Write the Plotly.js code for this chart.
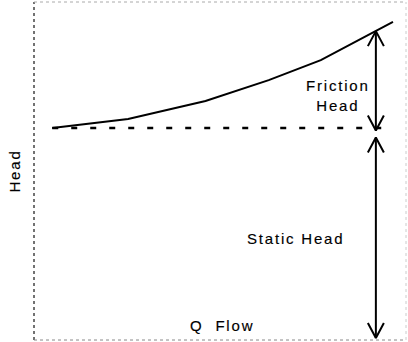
<!DOCTYPE html>
<html>
<head>
<meta charset="utf-8">
<script src="https://cdn.plot.ly/plotly-3.0.1.min.js"></script>
<style>
  html, body { margin: 0; padding: 0; background: #fff; }
  #chart { width: 408px; height: 342px; }
  .annotation-text, .ytitle { letter-spacing: 1.8px; stroke: #000; stroke-width: 0.15px; }
</style>
</head>
<body>
<div id="chart"></div>
<script>
// Data (abstract units: flow 0-100, head 0-100)
const flow = [4.9, 25.3, 46.1, 63.1, 77.1, 86.5, 96.5];
const systemHead = [62.7, 65.4, 70.7, 76.9, 82.8, 88.2, 94.1];
const staticHead = 62.7;
const arrowFlow = 91.9;
const headAxisTitle = "Head";
const flowLabel = "Q  Flow";
const frictionLabel = "Friction<br>Head";
const staticLabel = "Static Head";

// Layout geometry
const W = 408, H = 342;
const M = {l: 34, r: 2, t: 2, b: 2};
const xRange = [0, 100], yRange = [0, 100];
const pw = W - M.l - M.r, ph = H - M.t - M.b;
const pxX = p => p / pw * (xRange[1] - xRange[0]);
const pxY = p => p / ph * (yRange[1] - yRange[0]);

// head on the curve at the arrow's flow
function curveAt(x) {
  for (let i = 0; i < flow.length - 1; i++) {
    if (x >= flow[i] && x <= flow[i + 1]) {
      const t = (x - flow[i]) / (flow[i + 1] - flow[i]);
      return systemHead[i] + t * (systemHead[i + 1] - systemHead[i]);
    }
  }
  return systemHead[systemHead.length - 1];
}
const frictionTop = curveAt(arrowFlow);
const frictionBottom = staticHead - pxY(2.5);
const staticTop = staticHead - pxY(9.5);
const staticBottom = yRange[0] + pxY(2);

const headW = pxX(8), headH = pxY(15);
function vHead(xTip, yTip, dir) { // dir=+1 points up, -1 points down
  return {
    x: [xTip - headW, xTip, xTip + headW],
    y: [yTip - dir * headH, yTip, yTip - dir * headH]
  };
}
const arrowLine = {color: '#000', width: 2};
const traces = [
  {x: flow, y: systemHead, mode: 'lines', line: {color: '#000', width: 2}, hoverinfo: 'skip'},
  {x: [flow[0], flow[flow.length - 1]], y: [staticHead, staticHead], mode: 'lines',
   line: {color: '#000', width: 2.5, dash: '6px,13px'}, hoverinfo: 'skip'},
  {x: [arrowFlow, arrowFlow], y: [frictionTop, frictionBottom], mode: 'lines', line: arrowLine, hoverinfo: 'skip'},
  Object.assign({mode: 'lines', line: arrowLine, hoverinfo: 'skip'}, vHead(arrowFlow, frictionTop, 1)),
  Object.assign({mode: 'lines', line: arrowLine, hoverinfo: 'skip'}, vHead(arrowFlow, frictionBottom, -1)),
  {x: [arrowFlow, arrowFlow], y: [staticTop, staticBottom], mode: 'lines', line: arrowLine, hoverinfo: 'skip'},
  Object.assign({mode: 'lines', line: arrowLine, hoverinfo: 'skip'}, vHead(arrowFlow, staticTop, 1)),
  Object.assign({mode: 'lines', line: arrowLine, hoverinfo: 'skip'}, vHead(arrowFlow, staticBottom, -1))
];

const textFont = {family: '"Liberation Sans", Arial, sans-serif', size: 15, color: '#000'};
const layout = {
  width: W, height: H,
  margin: M,
  paper_bgcolor: '#fff', plot_bgcolor: '#fff',
  showlegend: false,
  xaxis: {range: xRange, showgrid: false, zeroline: false, showticklabels: false, ticks: '', showline: false, fixedrange: true},
  yaxis: {range: yRange, showgrid: false, zeroline: false, showticklabels: false, ticks: '', showline: false, fixedrange: true,
          title: {text: headAxisTitle, font: textFont, standoff: 8}},
  shapes: [
    {type: 'line', xref: 'paper', yref: 'paper', x0: 0, x1: 0, y0: 0, y1: 1, line: {color: '#444', width: 1.5, dash: 'dot'}},
    {type: 'line', xref: 'paper', yref: 'paper', x0: 0, x1: 1, y0: 1, y1: 1, line: {color: '#aaa', width: 1, dash: 'dot'}},
    {type: 'line', xref: 'paper', yref: 'paper', x0: 0, x1: 1, y0: 0, y1: 0, line: {color: '#888', width: 1, dash: 'dot'}},
    {type: 'line', xref: 'paper', yref: 'paper', x0: 1, x1: 1, y0: 0, y1: 1, line: {color: '#ccc', width: 1, dash: 'dot'}}
  ],
  annotations: [
    {x: 50.5, y: 4.4, xref: 'x', yref: 'y', text: flowLabel, showarrow: false, font: textFont},
    {x: 70.3, y: 29.9, xref: 'x', yref: 'y', text: staticLabel, showarrow: false, font: textFont},
    {x: 81.7, y: 72.3, xref: 'x', yref: 'y', text: frictionLabel, showarrow: false, font: textFont}
  ]
};
Plotly.newPlot('chart', traces, layout, {displayModeBar: false, staticPlot: true});
</script>
</body>
</html>
